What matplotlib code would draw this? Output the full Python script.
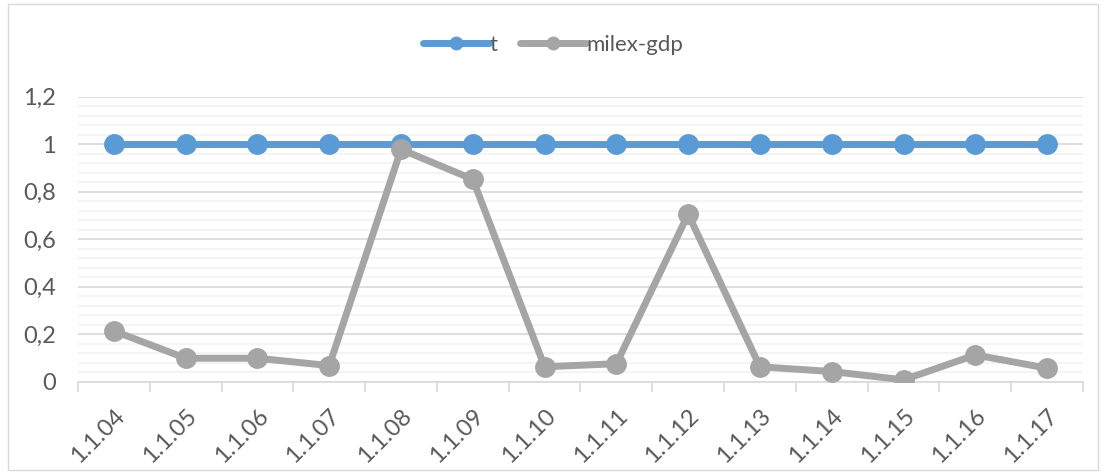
import numpy as np
import matplotlib.pyplot as plt
from matplotlib.ticker import MultipleLocator, FuncFormatter
from matplotlib.lines import Line2D
from matplotlib.patches import Rectangle

categorias = ['1.1.04', '1.1.05', '1.1.06', '1.1.07', '1.1.08', '1.1.09', '1.1.10',
              '1.1.11', '1.1.12', '1.1.13', '1.1.14', '1.1.15', '1.1.16', '1.1.17']
serie_t = [1, 1, 1, 1, 1, 1, 1, 1, 1, 1, 1, 1, 1, 1]
serie_milex = [0.213, 0.098, 0.098, 0.067, 0.978, 0.852, 0.062,
               0.075, 0.705, 0.062, 0.042, 0.007, 0.112, 0.056]

azul = '#5b9bd5'
gris = '#a5a5a5'
texto = '#595959'

plt.rcParams['font.family'] = ['Lato', 'DejaVu Sans']

fig = plt.figure(figsize=(11.06, 4.74), dpi=100)
ax = fig.add_axes([78 / 1106, 1 - 381.5 / 474, (1083 - 78) / 1106, (381.5 - 96.7) / 474])

# marco del gráfico
fig.patches.append(Rectangle((8 / 1106, 4 / 474), 1090 / 1106, 466 / 474,
                             transform=fig.transFigure, fill=False,
                             edgecolor='#d9d9d9', linewidth=1))

x = np.arange(len(categorias))
ax.plot(x, serie_t, color=azul, linewidth=5, marker='o', markersize=14,
        solid_capstyle='round', zorder=3)
ax.plot(x, serie_milex, color=gris, linewidth=5, marker='o', markersize=14,
        solid_capstyle='round', zorder=4)

ax.set_xlim(-0.5, len(categorias) - 0.5)
ax.set_ylim(0, 1.2)
ax.yaxis.set_major_locator(MultipleLocator(0.2))
ax.yaxis.set_minor_locator(MultipleLocator(0.04))
ax.yaxis.set_major_formatter(FuncFormatter(lambda v, p: f'{v:.1f}'.rstrip('0').rstrip('.').replace('.', ',') if v != 0 else '0'))
ax.grid(True, which='major', axis='y', color='#d9d9d9', linewidth=1.2, zorder=0)
ax.grid(True, which='minor', axis='y', color='#f2f2f2', linewidth=1.2, zorder=0)
ax.set_axisbelow(True)

ax.set_xticks(x)
ax.set_xticklabels(categorias, rotation=45, ha='right', rotation_mode='anchor')
ax.set_xticks(np.arange(-0.5, len(categorias)), minor=True)
ax.tick_params(axis='x', which='major', length=0, pad=17, labelsize=17, labelcolor=texto)
ax.tick_params(axis='x', which='minor', length=7, color='#d9d9d9', width=1.2)
ax.tick_params(axis='y', which='both', length=0, pad=16, labelsize=17, labelcolor=texto)

for lado in ['top', 'right', 'left']:
    ax.spines[lado].set_visible(False)
ax.spines['bottom'].set_color('#d9d9d9')
ax.spines['bottom'].set_linewidth(1.2)

handles = [Line2D([], [], color=azul, linewidth=5, marker='o', markersize=9, solid_capstyle='round'),
           Line2D([], [], color=gris, linewidth=5, marker='o', markersize=9, solid_capstyle='round')]
fig.legend(handles, ['t', 'milex-gdp'], loc='center', bbox_to_anchor=(0.5, 1 - 45 / 474),
           ncol=2, frameon=False, fontsize=16, labelcolor=texto, handlelength=3.0,
           handletextpad=0.0, columnspacing=1.0)

plt.savefig('out.png', dpi=100)
